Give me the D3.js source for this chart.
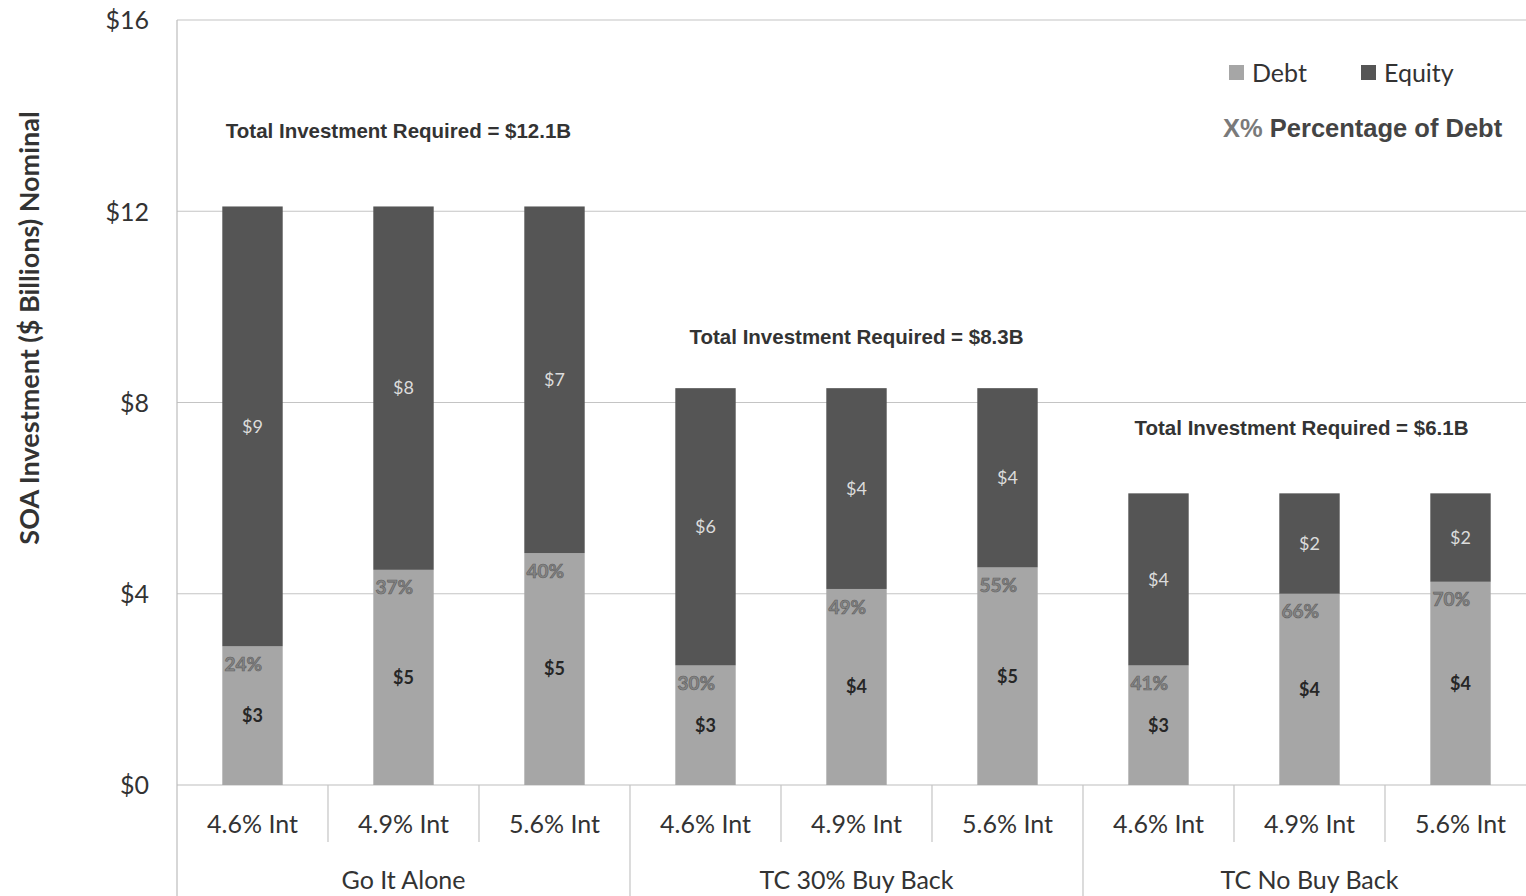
<!DOCTYPE html>
<html>
<head>
<meta charset="utf-8">
<script src="https://cdn.jsdelivr.net/npm/d3@7"></script>
<style>
  html, body { margin: 0; padding: 0; background: #ffffff; }
  svg { display: block; }
</style>
</head>
<body>
<svg id="chart" width="1526" height="896"></svg>
<script>
// ---- data ----
const groups = ["Go It Alone", "TC 30% Buy Back", "TC No Buy Back"];
const rates = ["4.6% Int", "4.9% Int", "5.6% Int"];
const debt   = [2.9, 4.5, 4.85, 2.5, 4.1, 4.55, 2.5, 4.0, 4.25];
const equity = [9.2, 7.6, 7.25, 5.8, 4.2, 3.75, 3.6, 2.1, 1.85];
const totalLabels = ["$12.1B", "$8.3B", "$6.1B"];
const yTicks = [0, 4, 8, 12, 16];

const svg = d3.select("#chart");
const W = 1526, H = 896;
const pLeft = 177, pRight = 1536, pTop = 20, pBottom = 785;

const y = d3.scaleLinear().domain([0, 16]).range([pBottom, pTop]);
const idx = d3.range(debt.length);
const x = d3.scaleBand().domain(idx).range([pLeft, pRight]).paddingInner(0.6).paddingOuter(0.3);
const step = x.step();
const slotStart = i => pLeft + i * step;

const debtColor = "#a6a6a6", equityColor = "#555555", textColor = "#333333";

// gridlines
svg.append("g").selectAll("line").data(yTicks.filter(d => d > 0)).join("line")
  .attr("x1", pLeft).attr("x2", W)
  .attr("y1", d => y(d)).attr("y2", d => y(d))
  .attr("stroke", "#c4c4c4").attr("stroke-width", 1.2);

// y axis labels
const yAxis = d3.axisLeft(y).tickValues(yTicks).tickFormat(d => "$" + d).tickSize(0).tickPadding(28);
const ya = svg.append("g").attr("transform", `translate(${pLeft},0)`).call(yAxis);
ya.select(".domain").remove();
ya.selectAll("text").attr("font-family", "Lato, 'Open Sans', sans-serif").attr("font-size", 25)
  .attr("fill", textColor).attr("dy", "0.35em");

// axis lines
svg.append("line").attr("x1", pLeft).attr("x2", pLeft).attr("y1", pTop).attr("y2", H)
  .attr("stroke", "#bdbdbd").attr("stroke-width", 1.2);
svg.append("line").attr("x1", pLeft).attr("x2", W).attr("y1", pBottom).attr("y2", pBottom)
  .attr("stroke", "#bdbdbd").attr("stroke-width", 1.2);

// category separators
for (let i = 1; i < debt.length; i++) {
  const isGroup = i % 3 === 0;
  svg.append("line").attr("x1", slotStart(i)).attr("x2", slotStart(i))
    .attr("y1", pBottom).attr("y2", isGroup ? H : 842)
    .attr("stroke", "#c4c4c4").attr("stroke-width", 1.2);
}

// bars
const bars = svg.append("g");
bars.selectAll("rect.debt").data(idx).join("rect").attr("class", "debt")
  .attr("x", i => x(i)).attr("width", x.bandwidth())
  .attr("y", i => y(debt[i])).attr("height", i => y(0) - y(debt[i]))
  .attr("fill", debtColor);
bars.selectAll("rect.equity").data(idx).join("rect").attr("class", "equity")
  .attr("x", i => x(i)).attr("width", x.bandwidth())
  .attr("y", i => y(debt[i] + equity[i])).attr("height", i => y(debt[i]) - y(debt[i] + equity[i]))
  .attr("fill", equityColor);

// debt value labels
svg.append("g").selectAll("text").data(idx).join("text")
  .attr("x", i => x(i) + x.bandwidth() / 2)
  .attr("y", i => y(debt[i] / 2))
  .attr("dy", "0.35em").attr("text-anchor", "middle")
  .attr("font-family", "Lato, 'Open Sans', sans-serif").attr("font-weight", "bold").attr("font-size", 18)
  .attr("fill", "#262626")
  .text(i => "$" + Math.round(debt[i]));

// equity value labels
svg.append("g").selectAll("text").data(idx).join("text")
  .attr("x", i => x(i) + x.bandwidth() / 2)
  .attr("y", i => y(debt[i] + equity[i] / 2))
  .attr("dy", "0.35em").attr("text-anchor", "middle")
  .attr("font-family", "Lato, 'Open Sans', sans-serif").attr("font-size", 18)
  .attr("fill", "#dcdcdc")
  .text(i => "$" + Math.round(equity[i]));

// percentage labels
svg.append("g").selectAll("text").data(idx).join("text")
  .attr("x", i => x(i) + 21)
  .attr("y", i => y(debt[i]) + 18)
  .attr("dy", "0.35em").attr("text-anchor", "middle")
  .attr("font-family", "Lato, 'Open Sans', sans-serif").attr("font-weight", "bold").attr("font-size", 19)
  .attr("fill", "#858585").attr("stroke", "#5e5e5e").attr("stroke-width", 0.6)
  .text(i => Math.round(debt[i] / (debt[i] + equity[i]) * 100) + "%");

// x category labels
svg.append("g").selectAll("text").data(idx).join("text")
  .attr("x", i => x(i) + x.bandwidth() / 2)
  .attr("y", 824).attr("dy", "0.35em").attr("text-anchor", "middle")
  .attr("font-family", "Lato, 'Open Sans', sans-serif").attr("font-size", 25)
  .attr("fill", textColor)
  .text(i => rates[i % 3]);

// group labels
svg.append("g").selectAll("text").data(groups).join("text")
  .attr("x", (d, g) => (x(g * 3) + x(g * 3 + 2) + x.bandwidth()) / 2)
  .attr("y", 880).attr("dy", "0.35em").attr("text-anchor", "middle")
  .attr("font-family", "Lato, 'Open Sans', sans-serif").attr("font-size", 25)
  .attr("fill", textColor)
  .text(d => d);

// total annotations
const annY = [131, 337, 428];
const annDx = [-5, 0, -8];
svg.append("g").selectAll("text").data(totalLabels).join("text")
  .attr("x", (d, g) => (x(g * 3) + x(g * 3 + 2) + x.bandwidth()) / 2 + annDx[g])
  .attr("y", (d, g) => annY[g]).attr("dy", "0.35em").attr("text-anchor", "middle")
  .attr("font-family", "'Liberation Sans', Arial, sans-serif").attr("font-weight", "bold").attr("font-size", 20.5)
  .attr("fill", "#333333")
  .text(d => "Total Investment Required = " + d);

// y axis title
svg.append("text")
  .attr("transform", "translate(30,328) rotate(-90)")
  .attr("text-anchor", "middle").attr("dy", "0.35em")
  .attr("font-family", "Lato, 'Open Sans', sans-serif").attr("font-weight", "bold").attr("font-size", 27)
  .attr("fill", "#333333")
  .text("SOA Investment ($ Billions) Nominal");

// legend
const legend = svg.append("g");
const legItems = [{name: "Debt", color: debtColor, x: 1229}, {name: "Equity", color: equityColor, x: 1361}];
legItems.forEach(it => {
  legend.append("rect").attr("x", it.x).attr("y", 65).attr("width", 15).attr("height", 15).attr("fill", it.color);
  legend.append("text").attr("x", it.x + 23).attr("y", 73).attr("dy", "0.35em")
    .attr("font-family", "Lato, 'Open Sans', sans-serif").attr("font-size", 25).attr("fill", textColor)
    .text(it.name);
});
const pctLegend = legend.append("text").attr("x", 1223).attr("y", 128).attr("dy", "0.35em")
  .attr("font-family", "'Liberation Sans', Arial, sans-serif").attr("font-weight", "bold").attr("font-size", 25.5)
  .attr("fill", "#444444");
pctLegend.append("tspan").attr("fill", "#7a7a7a").text("X%");
pctLegend.append("tspan").text(" Percentage of Debt");
</script>
</body>
</html>
